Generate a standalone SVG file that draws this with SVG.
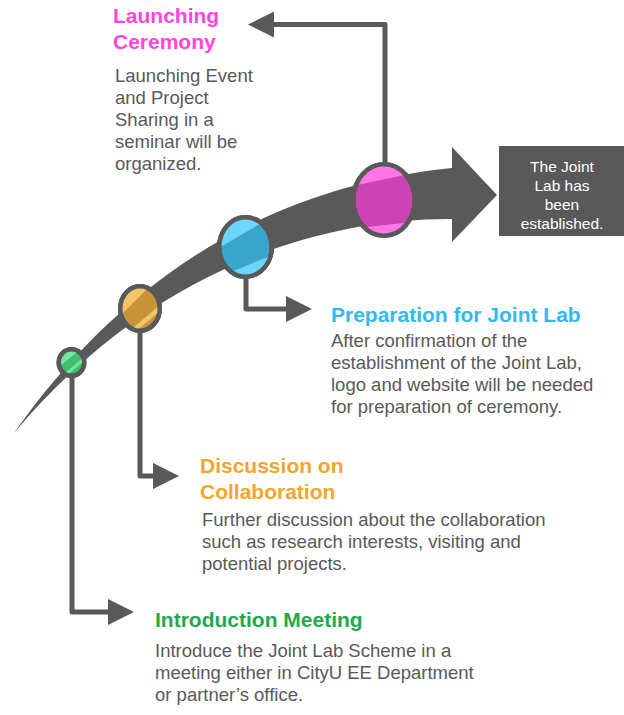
<svg xmlns="http://www.w3.org/2000/svg" width="624" height="715" viewBox="0 0 624 715">
<defs>
<style>
.band{fill:#595959}
.ring{stroke:#595959;stroke-width:4.5}
.conn{fill:none;stroke:#595959;stroke-width:5;stroke-linejoin:round}
.head{font-family:"Liberation Sans",Arial,sans-serif;font-weight:bold;font-size:21px}
.body{font-family:"Liberation Sans",Arial,sans-serif;font-size:18.5px;fill:#595959}
.box{font-family:"Liberation Sans",Arial,sans-serif;font-size:15.5px;fill:#ffffff;text-anchor:middle}
</style>
<marker id="arr" viewBox="0 0 26 26" markerWidth="26" markerHeight="26" refX="1" refY="13" orient="auto" markerUnits="userSpaceOnUse">
<path d="M0,0 L26,13 L0,26 Z" fill="#595959"/>
</marker>
<clipPath id="cpPink"><ellipse cx="384" cy="200" rx="30.75" ry="35.75"/></clipPath>
<clipPath id="cpBlue"><ellipse cx="245.5" cy="247" rx="26.25" ry="29.75"/></clipPath>
<clipPath id="cpOrange"><ellipse cx="140" cy="308.5" rx="19.75" ry="22.25"/></clipPath>
<clipPath id="cpGreen"><ellipse cx="71.5" cy="362.5" rx="12.75" ry="13.25"/></clipPath>
</defs>
<rect width="624" height="715" fill="#ffffff"/>

<g id="timeline">
<path class="band" d="M14,433 C115,290 255,188 452,168 L452,147 L497,195 L452,242 L452,219 C320,218 150,270 14,433 Z"/>
</g>

<g id="connectors">
<path class="conn" d="M385,166 V24.5 H273" marker-end="url(#arr)"/>
<path class="conn" d="M246,276 V309 H287" marker-end="url(#arr)"/>
<path class="conn" d="M140,330 V476 H154" marker-end="url(#arr)"/>
<path class="conn" d="M72,376 V612 H109" marker-end="url(#arr)"/>
</g>

<g id="node-launching">
<ellipse cx="384" cy="200" rx="30.75" ry="35.75" fill="#CC44B4" class="ring"/>
<g clip-path="url(#cpPink)" fill="#FF77E6">
<polygon points="340,150 430,150 430,169.6 340,188.8"/>
<polygon points="340,230 430,220 430,250 340,250"/>
</g>
<ellipse cx="384" cy="200" rx="30.75" ry="35.75" fill="none" class="ring"/>
<text class="head" fill="#FF45DC"><tspan x="113" y="23">Launching</tspan><tspan x="113" y="49">Ceremony</tspan></text>
<text class="body"><tspan x="115" y="82">Launching Event</tspan><tspan x="115" y="104">and Project</tspan><tspan x="115" y="126">Sharing in a</tspan><tspan x="115" y="148">seminar will be</tspan><tspan x="115" y="170">organized.</tspan></text>
</g>

<g id="node-preparation">
<ellipse cx="245.5" cy="247" rx="26.25" ry="29.75" fill="#3AA5CA" class="ring"/>
<g clip-path="url(#cpBlue)" fill="#6DD6F7">
<polygon points="210,200 290,200 290,206.3 210,253"/>
<polygon points="210,280.4 290,248 290,290 210,290"/>
</g>
<ellipse cx="245.5" cy="247" rx="26.25" ry="29.75" fill="none" class="ring"/>
<text class="head" fill="#2EBBF0" x="331" y="322">Preparation for Joint Lab</text>
<text class="body"><tspan x="331" y="347">After confirmation of the</tspan><tspan x="331" y="369">establishment of the Joint Lab,</tspan><tspan x="331" y="391">logo and website will be needed</tspan><tspan x="331" y="413">for preparation of ceremony.</tspan></text>
</g>

<g id="node-discussion">
<ellipse cx="140" cy="308.5" rx="19.75" ry="22.25" fill="#C9933A" class="ring"/>
<g clip-path="url(#cpOrange)" fill="#F4C46A">
<polygon points="110,280 156,280 110,326"/>
<polygon points="110,347.5 170,296.5 170,302.5 110,353.5"/>
</g>
<ellipse cx="140" cy="308.5" rx="19.75" ry="22.25" fill="none" class="ring"/>
<text class="head" fill="#F5A52A"><tspan x="200" y="473">Discussion on</tspan><tspan x="200" y="499">Collaboration</tspan></text>
<text class="body"><tspan x="202" y="526">Further discussion about the collaboration</tspan><tspan x="202" y="548">such as research interests, visiting and</tspan><tspan x="202" y="570">potential projects.</tspan></text>
</g>

<g id="node-introduction">
<ellipse cx="71.5" cy="362.5" rx="12.75" ry="13.25" fill="#3FBF6F" class="ring"/>
<g clip-path="url(#cpGreen)" fill="#72E89D">
<polygon points="50,340 90,340 90,341.2 50,374.5"/>
<polygon points="50,385.5 95,348 95,351.8 50,389.3"/>
</g>
<ellipse cx="71.5" cy="362.5" rx="12.75" ry="13.25" fill="none" class="ring"/>
<text class="head" fill="#1DAA4F" x="155" y="627">Introduction Meeting</text>
<text class="body"><tspan x="155" y="657">Introduce the Joint Lab Scheme in a</tspan><tspan x="155" y="679">meeting either in CityU EE Department</tspan><tspan x="155" y="701">or partner’s office.</tspan></text>
</g>

<g id="node-established">
<rect x="499" y="146" width="125" height="90" fill="#595959"/>
<text class="box"><tspan x="562" y="172">The Joint</tspan><tspan x="562" y="191">Lab has</tspan><tspan x="562" y="210">been</tspan><tspan x="562" y="229">established.</tspan></text>
</g>
</svg>
